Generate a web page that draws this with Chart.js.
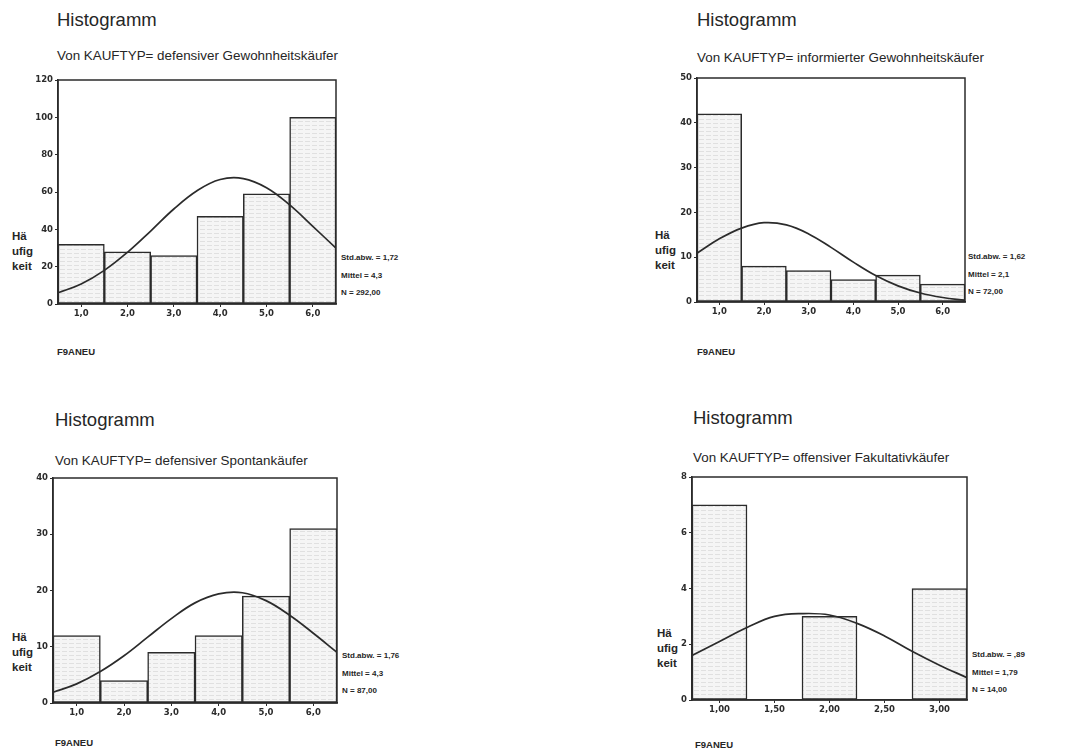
<!DOCTYPE html>
<html>
<head>
<meta charset="utf-8">
<script src="https://cdn.jsdelivr.net/npm/chart.js@4.4.0/dist/chart.umd.min.js"></script>
<style>
  body { margin: 0; background: #fff; }
  #page { position: relative; width: 1068px; height: 750px; overflow: hidden; font-family: "Liberation Sans", Arial, sans-serif; color: #262626; }
  #page div { position: absolute; white-space: nowrap; line-height: 1; }
  .head { font-size: 18.5px; }
  .sub { font-size: 13.4px; }
  .ylab { font-size: 11.5px; font-weight: bold; line-height: 15px !important; }
  .stats { font-size: 8px; font-weight: bold; line-height: 17.5px !important; }
  .xname { font-size: 9.5px; font-weight: bold; }
  canvas { position: absolute; }
</style>
</head>
<body>
<div id="page"></div>
<script>
// bins on the F9ANEU scale
const bins6 = ['1,0', '2,0', '3,0', '4,0', '5,0', '6,0'];
const bins5 = ['1,00', '1,50', '2,00', '2,50', '3,00'];

// counts per bin
const countsGewohnDef = [32, 28, 26, 47, 59, 100];
const countsGewohnInf = [42, 8, 7, 5, 6, 4];
const countsSpontanDef = [12, 4, 9, 12, 19, 31];
const countsFakultOff = [7, 0, 3, 0, 4];

// normal curve, sampled every half bin
const curveX6 = [0.5, 1, 1.5, 2, 2.5, 3, 3.5, 4, 4.5, 5, 5.5, 6, 6.5];
const curveX5 = [0.75, 1, 1.25, 1.5, 1.75, 2, 2.25, 2.5, 2.75, 3, 3.25];
const curveGewohnDef = [6, 10.7, 18, 27.7, 39.1, 50.9, 60.7, 66.7, 67.2, 62.3, 53.1, 41.6, 29.9];
const curveGewohnInf = [10.9, 14.1, 16.5, 17.7, 17.2, 15.2, 12.2, 8.9, 5.9, 3.6, 2.0, 1.0, 0.4];
const curveSpontanDef = [1.9, 3.4, 5.6, 8.4, 11.7, 15.0, 17.8, 19.4, 19.6, 18.2, 15.6, 12.4, 9.0];
const curveFakultOff = [1.6, 2.1, 2.6, 3.0, 3.1, 3.05, 2.75, 2.3, 1.75, 1.25, 0.8];

// y axis ranges
const yMax = [120, 50, 40, 8];
const yStep = [20, 10, 10, 2];

const subtitles = [
  'Von KAUFTYP= defensiver Gewohnheitskäufer',
  'Von KAUFTYP= informierter Gewohnheitskäufer',
  'Von KAUFTYP= defensiver Spontankäufer',
  'Von KAUFTYP= offensiver Fakultativkäufer'
];
const stats = [
  ['Std.abw. = 1,72', 'Mittel = 4,3', 'N = 292,00'],
  ['Std.abw. = 1,62', 'Mittel = 2,1', 'N = 72,00'],
  ['Std.abw. = 1,76', 'Mittel = 4,3', 'N = 87,00'],
  ['Std.abw. = ,89', 'Mittel = 1,79', 'N = 14,00']
];

const ink = '#2b2b2b';
const tickFont = { family: '"DejaVu Sans", sans-serif', size: 8.5, weight: 'bold' };

// plot box and text anchors for each panel
const panels = [
  { box: [58, 80, 336, 304], bins: bins6, counts: countsGewohnDef, cx: curveX6, curve: curveGewohnDef,
    head: [57, 20], sub: [57, 55], ylab: [12, 229], stat: [341, 249], xname: [57, 352] },
  { box: [697, 78, 965, 302], bins: bins6, counts: countsGewohnInf, cx: curveX6, curve: curveGewohnInf,
    head: [697, 20], sub: [697, 57], ylab: [655, 228], stat: [968, 248], xname: [697, 352] },
  { box: [53, 478, 337, 703], bins: bins6, counts: countsSpontanDef, cx: curveX6, curve: curveSpontanDef,
    head: [55, 420], sub: [55, 460], ylab: [12, 630], stat: [342, 647], xname: [55, 743] },
  { box: [692, 477, 967, 700], bins: bins5, counts: countsFakultOff, cx: curveX5, curve: curveFakultOff,
    head: [693, 418], sub: [693, 457], ylab: [657, 626], stat: [972, 646], xname: [695, 745] }
];

const page = document.getElementById('page');

function addText(cls, text, x, y, centred) {
  const d = document.createElement('div');
  d.className = cls;
  d.innerHTML = text;
  d.style.left = x + 'px';
  page.appendChild(d);
  d.style.top = (centred ? y - d.offsetHeight / 2 : y) + 'px';
  return d;
}

// faint horizontal hatching used to fill the bars
function barFill() {
  const c = document.createElement('canvas');
  c.width = 7; c.height = 4;
  const g = c.getContext('2d');
  g.fillStyle = '#f5f5f5';
  g.fillRect(0, 0, 7, 4);
  g.fillStyle = '#e0e0e0';
  g.fillRect(0, 3, 5, 1);
  return g.createPattern(c, 'repeat');
}

const frame = {
  id: 'frame',
  afterDatasetsDraw(chart) {
    const a = chart.chartArea, c = chart.ctx;
    c.save();
    c.strokeStyle = ink;
    c.lineWidth = 1.5;
    c.strokeRect(a.left, a.top, a.right - a.left, a.bottom - a.top);
    c.restore();
  }
};

const padL = 40, padT = 10, padR = 6, padB = 22;

panels.forEach((p, i) => {
  addText('head', 'Histogramm', p.head[0], p.head[1], true);
  addText('sub', subtitles[i], p.sub[0], p.sub[1], true);
  addText('ylab', 'Hä<br>ufig<br>keit', p.ylab[0], p.ylab[1], false);
  addText('stats', stats[i].join('<br>'), p.stat[0], p.stat[1], false);
  addText('xname', 'F9ANEU', p.xname[0], p.xname[1], true);

  const [L, T, R, B] = p.box;
  const cv = document.createElement('canvas');
  cv.width = R - L + padL + padR;
  cv.height = B - T + padT + padB;
  cv.style.left = (L - padL) + 'px';
  cv.style.top = (T - padT) + 'px';
  page.appendChild(cv);

  new Chart(cv, {
    type: 'bar',
    data: {
      labels: p.bins,
      datasets: [
        {
          type: 'bar',
          data: p.counts,
          backgroundColor: barFill(),
          borderColor: ink,
          borderWidth: 1.5,
          borderSkipped: false,
          grouped: false,
          barPercentage: 1,
          categoryPercentage: 1,
          order: 2
        },
        {
          type: 'line',
          xAxisID: 'xc',
          data: p.cx.map((x, k) => ({ x: x, y: p.curve[k] })),
          borderColor: ink,
          borderWidth: 1.7,
          pointRadius: 0,
          tension: 0.4,
          fill: false,
          order: 1
        }
      ]
    },
    options: {
      responsive: false,
      animation: false,
      layout: { padding: { top: padT, right: padR, left: 0, bottom: 0 } },
      plugins: { legend: { display: false }, tooltip: { enabled: false } },
      scales: {
        x: {
          type: 'category',
          offset: true,
          grid: { offset: false, drawOnChartArea: false, tickLength: 3, color: ink },
          border: { color: ink, width: 1.5 },
          ticks: { font: tickFont, color: ink, padding: 2, maxRotation: 0, autoSkip: false },
          afterFit(s) { s.height = padB; }
        },
        xc: {
          type: 'linear',
          display: false,
          offset: false,
          min: p.cx[0],
          max: p.cx[p.cx.length - 1]
        },
        y: {
          min: 0,
          max: yMax[i],
          ticks: { stepSize: yStep[i], font: tickFont, color: ink, padding: 2 },
          grid: { drawOnChartArea: false, tickLength: 3, color: ink },
          border: { color: ink, width: 1.5 },
          afterFit(s) { s.width = padL; }
        }
      }
    },
    plugins: [frame]
  });
});
</script>
</body>
</html>
